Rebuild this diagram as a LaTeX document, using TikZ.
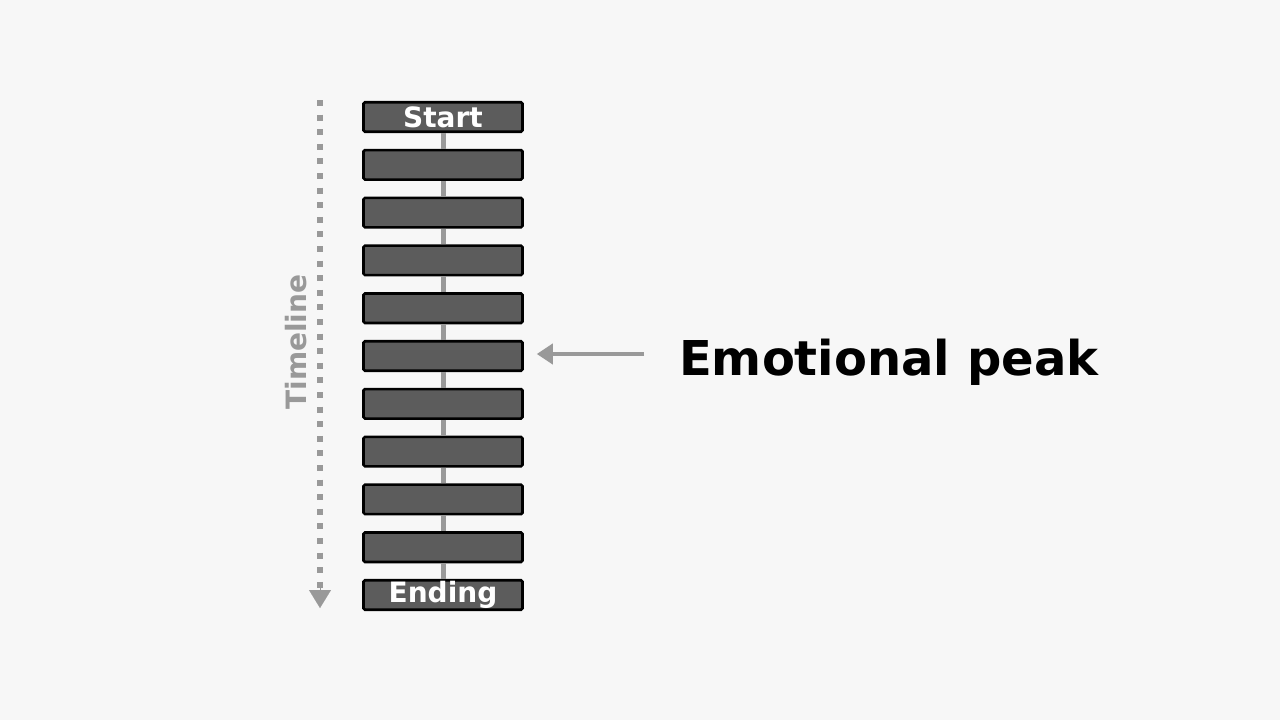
\documentclass[tikz,border=0pt]{standalone}
\usepackage{fontspec}
\usepackage{xcolor}
\setmainfont{DejaVu Sans}
\usetikzlibrary{arrows.meta, positioning}
\definecolor{slidebg}{rgb}{0.97, 0.97, 0.97}
\definecolor{beatgrey}{rgb}{0.36, 0.36, 0.36}
\definecolor{linkgrey}{rgb}{0.6, 0.6, 0.6}
\tikzset{beat/.style={draw=black, line width=2.6pt, rounded corners=1.5pt, fill=beatgrey, minimum width=159pt, minimum height=29.5pt, inner sep=0pt, text=white, font=\fontsize{28}{30}\selectfont\bfseries}}
\tikzset{link/.style={color=linkgrey, line width=5pt}}
\tikzset{tline/.style={color=linkgrey, line width=6pt, dash pattern=on 6pt off 8.6pt}}
\tikzset{tip/.style={color=linkgrey, line width=4.5pt, -{Triangle[width=20pt, length=16pt]}}}

\begin{document}
\begin{tikzpicture}[x=1pt, y=-1pt]
        \fill [slidebg] (0, 0) rectangle (1280, 720);
        \useasboundingbox (0, 0) rectangle (1280, 720);

        \node [beat] (B1)  at (443, 117)   { Start };
        \node [beat] (B2)  at (443, 164.8) {};
        \node [beat] (B3)  at (443, 212.6) {};
        \node [beat] (B4)  at (443, 260.4) {};
        \node [beat] (B5)  at (443, 308.2) {};
        \node [beat] (B6)  at (443, 356)   {};
        \node [beat] (B7)  at (443, 403.8) {};
        \node [beat] (B8)  at (443, 451.6) {};
        \node [beat] (B9)  at (443, 499.4) {};
        \node [beat] (B10) at (443, 547.2) {};
        \node [beat] (B11) at (443, 595)   { Ending };

        \draw [link] (B1) -- (B2);
        \draw [link] (B2) -- (B3);
        \draw [link] (B3) -- (B4);
        \draw [link] (B4) -- (B5);
        \draw [link] (B5) -- (B6);
        \draw [link] (B6) -- (B7);
        \draw [link] (B7) -- (B8);
        \draw [link] (B8) -- (B9);
        \draw [link] (B9) -- (B10);
        \draw [link] (B10) -- (B11);

        % timeline
        \coordinate (Ttop) at (320, 100);
        \coordinate (Tend) at (320, 588);
        \coordinate (Tbot) at (320, 608);
        \draw [tline] (Ttop) -- (Tend);
        \draw [color=linkgrey, line width=0.1pt, -{Triangle[width=22pt, length=18pt]}] (Tend) -- (Tbot);
        \node [rotate=90, color=linkgrey, font=\fontsize{28}{30}\selectfont\bfseries] (TL) at (296, 342) { Timeline };

        % peak
        \node [anchor=base west, font=\fontsize{48}{52}\selectfont\bfseries, inner sep=0pt] (Pk) at (679, 375) { Emotional peak };
        \coordinate (Pfrom) at (644, 354);
        \draw [tip, shorten >=13pt] (Pfrom) -- (B6.east |- Pfrom);
    \end{tikzpicture}
\end{document}
